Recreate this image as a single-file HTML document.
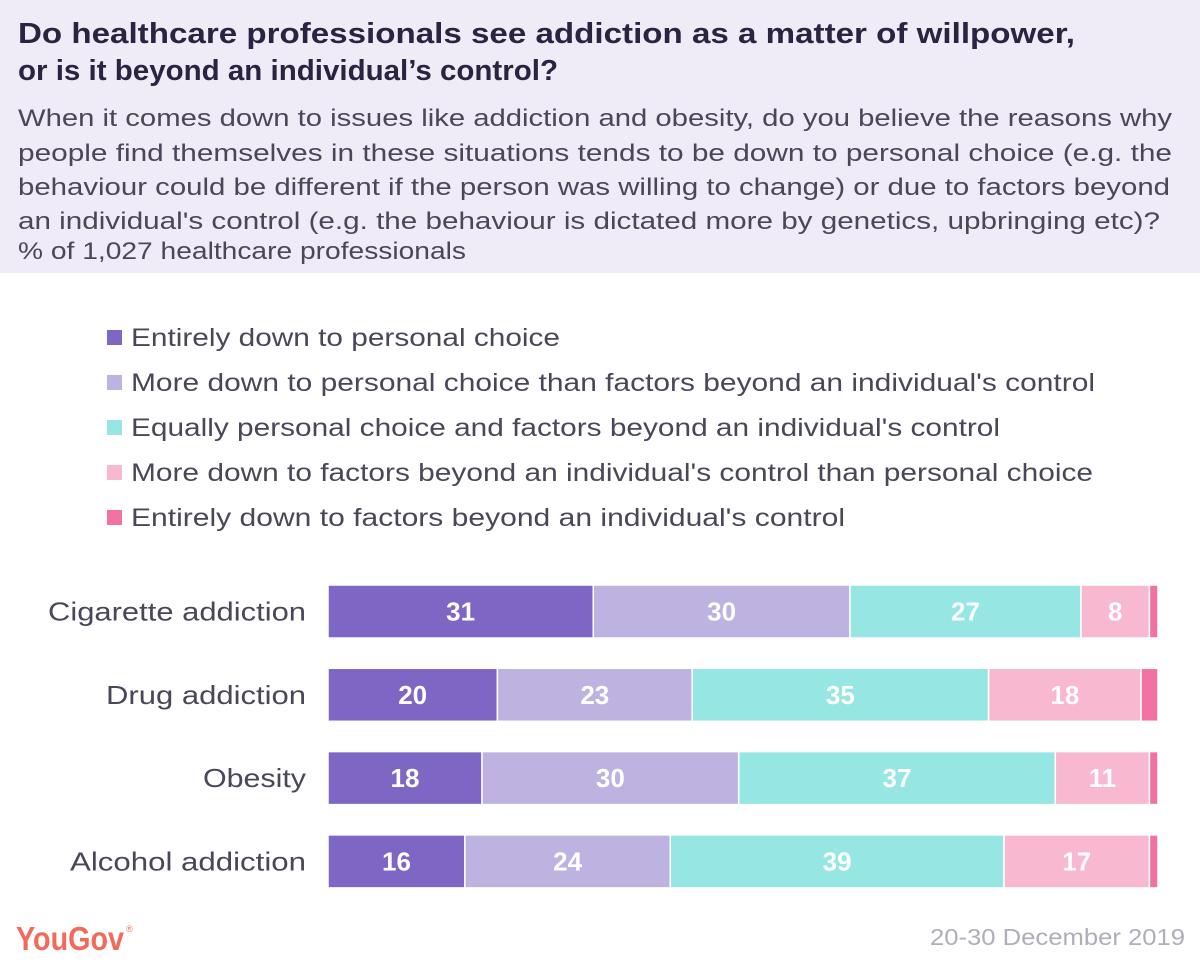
<!DOCTYPE html>
<html><head><meta charset="utf-8">
<style>
body{margin:0;width:1200px;height:967px;background:#fff;font-family:"Liberation Sans",sans-serif;position:relative;overflow:hidden}
svg text{font-family:"Liberation Sans",sans-serif}
</style></head><body>
<svg width="1200" height="967" style="position:absolute;left:0;top:0">
<rect x="0" y="0" width="1200" height="273" fill="#efecf7"/>
<g font-size="29" font-weight="bold" fill="#2a2440">
<text x="18" y="43" textLength="1057" lengthAdjust="spacingAndGlyphs">Do healthcare professionals see addiction as a matter of willpower,</text>
<text x="18" y="80" textLength="540" lengthAdjust="spacingAndGlyphs">or is it beyond an individual’s control?</text>
</g>
<g font-size="24" fill="#4b4658">
<text x="18" y="126" textLength="1154" lengthAdjust="spacingAndGlyphs">When it comes down to issues like addiction and obesity, do you believe the reasons why</text>
<text x="18" y="161" textLength="1154" lengthAdjust="spacingAndGlyphs">people find themselves in these situations tends to be down to personal choice (e.g. the</text>
<text x="18" y="195" textLength="1152" lengthAdjust="spacingAndGlyphs">behaviour could be different if the person was willing to change) or due to factors beyond</text>
<text x="18" y="229" textLength="1142" lengthAdjust="spacingAndGlyphs">an individual's control (e.g. the behaviour is dictated more by genetics, upbringing etc)?</text>
<text x="18" y="259" textLength="448" lengthAdjust="spacingAndGlyphs">% of 1,027 healthcare professionals</text>
</g>
<g font-size="25" fill="#4b4658">
<g><rect x="107" y="330" width="15" height="15" fill="#7d66c4"/><text x="131" y="346" textLength="429" lengthAdjust="spacingAndGlyphs">Entirely down to personal choice</text></g>
<g><rect x="107" y="375" width="15" height="15" fill="#bdb2e0"/><text x="131" y="391" textLength="964" lengthAdjust="spacingAndGlyphs">More down to personal choice than factors beyond an individual's control</text></g>
<g><rect x="107" y="420" width="15" height="15" fill="#96e6e4"/><text x="131" y="436" textLength="869" lengthAdjust="spacingAndGlyphs">Equally personal choice and factors beyond an individual's control</text></g>
<g><rect x="107" y="465" width="15" height="15" fill="#f8b8d0"/><text x="131" y="481" textLength="962" lengthAdjust="spacingAndGlyphs">More down to factors beyond an individual's control than personal choice</text></g>
<g><rect x="107" y="510" width="15" height="15" fill="#f272a3"/><text x="131" y="526" textLength="714" lengthAdjust="spacingAndGlyphs">Entirely down to factors beyond an individual's control</text></g>
</g>
<g id="chart"></g>
<text x="16" y="950" font-size="33" font-weight="bold" fill="#f26a5a" textLength="108" lengthAdjust="spacingAndGlyphs">YouGov</text>
<text x="126" y="932" font-size="9" fill="#f26a5a">®</text>
<text x="930" y="945" font-size="23" fill="#b0aeb8" textLength="255" lengthAdjust="spacingAndGlyphs">20-30 December 2019</text>
</svg>
<script>
const categories=["Cigarette addiction","Drug addiction","Obesity","Alcohol addiction"];
const catWidths=[258,200,103,236];
const entirelyPersonal=[31,20,18,16];
const morePersonal=[30,23,30,24];
const equally=[27,35,37,39];
const moreFactors=[8,18,11,17];
const entirelyFactors=[1,2,1,1];
const series=[entirelyPersonal,morePersonal,equally,moreFactors,entirelyFactors];
const colors=["#7d66c4","#bdb2e0","#96e6e4","#f8b8d0","#f272a3"];
const svg=document.getElementById('chart');
const NS="http://www.w3.org/2000/svg";
const x0=328,x1=1158,yTop=585,step=83.3,bh=53;
categories.forEach((c,i)=>{
  const total=series.reduce((s,a)=>s+a[i],0);
  const sx=v=>v/total*(x1-x0);
  const y=yTop+i*step;
  const lab=document.createElementNS(NS,'text');
  
  
  lab.setAttribute('x',306-catWidths[i]);lab.setAttribute('y',y+bh/2+9);
  lab.setAttribute('textLength',catWidths[i]);lab.setAttribute('lengthAdjust','spacingAndGlyphs');
  lab.setAttribute('font-size','26');
  lab.setAttribute('fill','#4b4658');lab.textContent=c;svg.appendChild(lab);
  let acc=0;
  series.forEach((s,k)=>{
    const v=s[i];const x=x0+sx(acc);const w=sx(v);
    const r=document.createElementNS(NS,'rect');
    
    
    r.setAttribute('x',x);r.setAttribute('y',y);r.setAttribute('width',w);r.setAttribute('height',bh);
    r.setAttribute('fill',colors[k]);r.setAttribute('stroke','#fff');r.setAttribute('stroke-width','1.5');
    svg.appendChild(r);
    if(v>=5){
      const t=document.createElementNS(NS,'text');
      
      
      t.setAttribute('x',x+w/2);t.setAttribute('y',y+bh/2+9);
      t.setAttribute('text-anchor','middle');t.setAttribute('font-size','26');
      t.setAttribute('font-weight','bold');t.setAttribute('fill','#fff');
      t.textContent=v;svg.appendChild(t);
    }
    acc+=v;
  });
});
</script>
</body></html>
